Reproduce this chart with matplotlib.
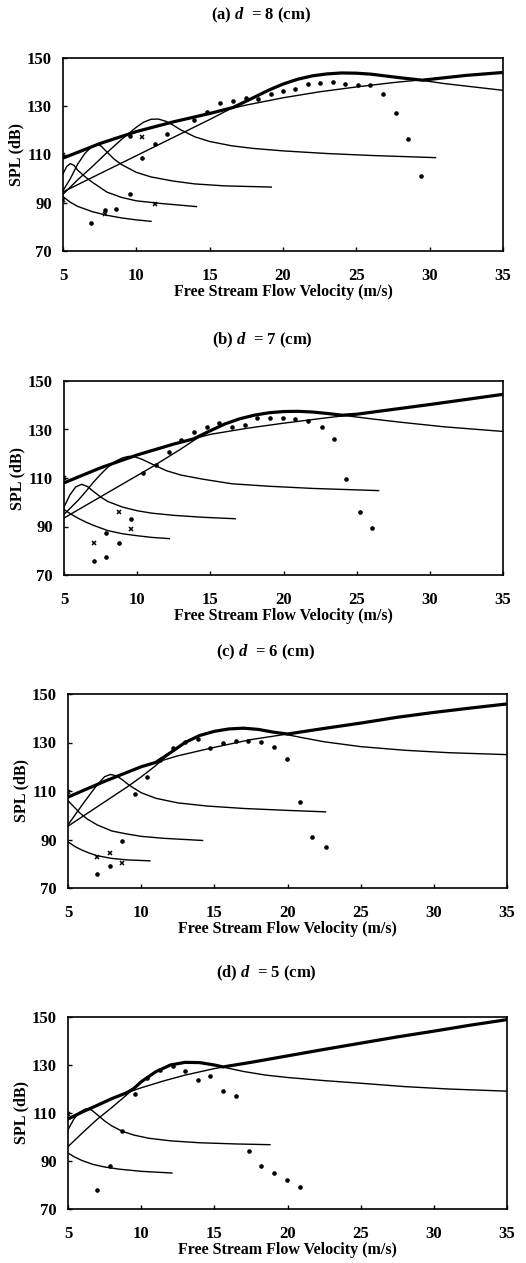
import numpy as np
import matplotlib
matplotlib.use("Agg")
import matplotlib.pyplot as plt

plt.rcParams['font.family'] = ['Liberation Serif', 'DejaVu Serif']
plt.rcParams['font.weight'] = 'bold'
plt.rcParams['axes.labelweight'] = 'bold'
plt.rcParams['mathtext.fontset'] = 'custom'
plt.rcParams['mathtext.it'] = 'Liberation Serif:italic:bold'
plt.rcParams['mathtext.rm'] = 'Liberation Serif:bold'

# ---------------- (a) d = 8 cm ----------------
a_L_x = [5, 7.5, 10, 12.5, 15, 17.5, 20, 22.5, 25, 27.5, 30, 32.5, 35]
a_L_y = [108.5, 114.5, 119.5, 123.5, 127, 130.5, 133.5, 136, 138, 139.8, 141.3, 142.8, 144]
a_c5_x = [5, 7.5, 10, 12.5, 15, 16.6, 18, 19, 20, 21, 22, 23, 24, 25, 26, 28, 29.5, 31, 33, 35]
a_c5_y = [94.5, 102, 109.5, 117, 124.5, 129.5, 133.6, 136.6, 139.2, 141.2, 142.6, 143.4, 143.8, 143.7, 143.3,
          141.8, 140.7, 139.4, 138, 136.6]
a_c4_x = [5, 6, 7, 8, 9, 10, 10.5, 11, 11.5, 12, 12.5, 13, 14, 15, 16.5, 18, 20, 23, 26, 30.4]
a_c4_y = [93.5, 99.5, 105, 110.8, 116.3, 121.3, 123.4, 124.6, 124.7, 123.8, 122.2, 120.3, 117.3, 115.4, 113.6, 112.5, 111.5, 110.4, 109.6, 108.7]
a_c3_x = [5, 5.5, 6, 6.5, 7, 7.3, 7.6, 8, 8.5, 9, 10, 11, 12.5, 14, 16, 19.2]
a_c3_y = [95, 100, 106, 110.5, 113.5, 114.2, 113.5, 111, 108, 105.8, 102.6, 100.7, 99, 97.8, 97, 96.5]
a_c2_x = [5, 5.25, 5.5, 5.75, 6, 6.5, 7, 8, 9, 10, 11.5, 14.1]
a_c2_y = [102, 105, 106.2, 105.5, 103.5, 100.8, 98.5, 94.4, 92.2, 90.8, 89.8, 88.4]
a_c1_x = [5, 5.5, 6, 7, 8, 9, 10, 11]
a_c1_y = [92.5, 90.2, 88.5, 86.3, 84.8, 83.7, 82.9, 82.3]
a_env_x = [5, 7.5, 10, 12.5, 15, 16.6, 18, 19, 20, 21, 22, 23, 24, 25, 26, 28, 29.5, 32.5, 35]
a_env_y = [108.5, 114.5, 119.5, 123.5, 127, 129.5, 133.6, 136.6, 139.2, 141.2, 142.6, 143.4, 143.8, 143.7,
           143.3, 141.8, 140.8, 142.8, 144]
a_dot_x = [6.93, 7.84, 8.64, 9.55, 9.55, 10.4, 11.26, 12.1, 13.9, 14.8, 15.7, 16.6, 17.5, 18.3,
           19.2, 20.0, 20.8, 21.7, 22.5, 23.4, 24.25, 25.1, 25.9, 26.8, 27.7, 28.5, 29.4]
a_dot_y = [81.8, 86.8, 87.6, 93.8, 117.5, 108.5, 114.3, 118.4, 124.4, 127.7, 131.2, 132.1, 133.5, 133.1,
           135.1, 136.3, 137.1, 139.1, 139.8, 139.9, 139.4, 139.0, 138.7, 135.1, 127.3, 116.4, 101]
a_x_x = [5, 5, 7.84, 10.4, 11.26]
a_x_y = [110, 91, 85.3, 117.2, 89.3]

# ---------------- (b) d = 7 cm ----------------
b_L_x = [5, 7.5, 10, 12.5, 15, 17.5, 20, 22.5, 25, 27.5, 30, 32.5, 35]
b_L_y = [108, 114.2, 119.5, 124, 128, 130.5, 132.6, 134.5, 136.3, 138.3, 140.3, 142.4, 144.5]
b_c5_x = [5, 7, 9, 11, 13, 14, 15, 16, 17, 18, 19, 20, 21, 22, 23, 24, 26, 28, 31, 35]
b_c5_y = [93.5, 100.5, 107.5, 114.5, 122, 126, 129.5, 132.3, 134.4, 135.9, 136.9, 137.4, 137.5, 137.2,
          136.6, 135.9, 134.4, 133, 131.1, 129.2]
b_c4_x = [5, 5.5, 6, 6.5, 7, 7.5, 8, 8.5, 9, 9.4, 9.8, 10.3, 11, 12, 13, 14.5, 16.5, 19, 22, 26.5]
b_c4_y = [95, 98, 101, 104.5, 108.2, 111.5, 114.5, 116.8, 118.3, 118.9, 118.8, 117.8, 115.8, 113, 111.2,
          109.5, 107.6, 106.6, 105.7, 104.8]
b_c3_x = [5, 5.4, 5.8, 6.2, 6.6, 7, 7.5, 8, 9, 10, 11, 12.5, 14.5, 16.7]
b_c3_y = [98, 103, 106.3, 107.4, 106.5, 104.5, 102.2, 100.3, 98, 96.5, 95.5, 94.6, 93.8, 93.2]
b_c2_x = [5, 5.5, 6, 6.5, 7, 8, 9, 10, 11, 12.2]
b_c2_y = [97, 95, 93.3, 91.8, 90.5, 88.3, 87, 86.2, 85.5, 85]
b_env_x = [5, 7.5, 10, 12.5, 13.84, 15, 16, 17, 18, 19, 20, 21, 22, 23, 24, 25, 27.5, 30, 32.5, 35]
b_env_y = [108, 114.2, 119.5, 124, 126.1, 129.5, 132.3, 134.4, 135.9, 136.9, 137.4, 137.5, 137.2, 136.6,
           135.9, 136.3, 138.3, 140.3, 142.4, 144.5]
b_dot_x = [7.03, 7.85, 7.85, 8.74, 9.6, 10.4, 11.3, 12.15, 13.0, 13.9, 14.8, 15.6, 16.5, 17.4, 18.2,
           19.1, 19.97, 20.8, 21.7, 22.6, 23.45, 24.3, 25.2, 26.05]
b_dot_y = [75.7, 77.3, 87.3, 83.2, 93.2, 112.2, 115.3, 120.9, 125.7, 128.9, 130.9, 132.6, 130.9, 131.9,
           134.6, 134.6, 134.9, 134.2, 133.3, 131.2, 126.1, 109.5, 96, 89.5]
b_x_x = [5, 7.03, 8.74, 9.6]
b_x_y = [110, 83.2, 96, 89]

# ---------------- (c) d = 6 cm ----------------
c_L_x = [5, 7.5, 10, 12.5, 15, 17.5, 20, 22.5, 25, 27.5, 30, 32.5, 35]
c_L_y = [107.5, 114, 120, 124.5, 128, 131.2, 133.5, 135.8, 138, 140.4, 142.4, 144.2, 145.9]
c_c5_x = [5, 6, 7, 8, 9, 10, 11, 12, 13, 14, 15, 16, 17, 18, 19, 20, 21, 22.5, 25, 28, 31, 35]
c_c5_y = [95.5, 99.5, 103.5, 107.5, 111.5, 115.8, 120.5, 125.8, 130, 132.9, 134.6, 135.6, 135.9, 135.4,
          134.3, 133.2, 132, 130.3, 128.3, 126.8, 125.8, 125]
c_c4_x = [5, 5.5, 6, 6.5, 7, 7.5, 7.9, 8.3, 8.7, 9.2, 10, 11, 12.5, 14.5, 17, 20, 22.6]
c_c4_y = [96, 100.3, 104.5, 108.6, 112.6, 115.9, 116.8, 116.3, 114.7, 112.3, 109.3, 107, 105.1, 103.8,
          102.8, 102, 101.4]
c_c3_x = [5, 5.4, 5.8, 6.3, 7, 8, 9, 10, 11.5, 14.2]
c_c3_y = [106, 103.5, 101, 98.5, 96, 93.5, 92.3, 91.3, 90.5, 89.6]
c_c2_x = [5, 5.5, 6, 6.5, 7, 8, 9, 10.6]
c_c2_y = [89, 87, 85.5, 84.3, 83.3, 82.2, 81.6, 81.2]
c_env_x = [5, 7.5, 10, 11, 12, 13, 14, 15, 16, 17, 18, 19, 20, 22.5, 25, 27.5, 30, 32.5, 35]
c_env_y = [107.5, 114, 120, 121.8, 125.8, 130, 132.9, 134.6, 135.6, 135.9, 135.4, 134.3, 133.5, 135.8,
           138, 140.4, 142.4, 144.2, 145.9]
c_dot_x = [6.98, 7.85, 8.7, 9.55, 10.4, 11.26, 12.15, 13.0, 13.86, 14.7, 15.6, 16.5, 17.3, 18.2, 19.1,
           19.96, 20.85, 21.7, 22.6]
c_dot_y = [75.9, 78.9, 89.5, 108.7, 115.6, 122.8, 127.6, 130.1, 131.3, 127.6, 130.0, 130.8, 130.5, 130.4,
           128.0, 123.4, 105.4, 91.0, 86.9]
c_x_x = [5, 6.98, 7.85, 8.7]
c_x_y = [109.5, 82.6, 84.4, 80.3]

# ---------------- (d) d = 5 cm ----------------
d_L_x = [5, 6, 7, 8, 9, 10, 11.5, 13, 15, 17.5, 20, 22.5, 25, 27.5, 30, 32.5, 35]
d_L_y = [107.5, 110.3, 113.2, 116, 118.4, 120.5, 123.3, 125.8, 128.5, 131.1, 133.8, 136.5, 139.1, 141.7,
         144.1, 146.6, 148.9]
d_c5_x = [5, 6, 7, 8, 9, 10, 11, 12, 13, 14, 15, 16, 17, 18.5, 20, 22.5, 25, 28, 31, 35]
d_c5_y = [96, 101.8, 107.4, 112.3, 117.5, 123, 127.2, 130, 131.1, 131, 130, 128.6, 127.3, 125.8, 124.8,
          123.5, 122.4, 121, 120, 119.1]
d_c3_x = [5, 5.4, 5.8, 6.2, 6.6, 7, 7.5, 8, 8.7, 9.5, 10.5, 12, 14, 16.5, 18.8]
d_c3_y = [103, 107.5, 110.3, 111.7, 111.3, 109.3, 106.7, 104.6, 102.4, 100.8, 99.5, 98.4, 97.6, 97.1, 96.8]
d_c2_x = [5, 5.5, 6, 6.7, 7.5, 8.5, 10, 12.1]
d_c2_y = [93.3, 91.5, 90.1, 88.6, 87.5, 86.6, 85.7, 85]
d_env_x = [5, 6, 7, 8, 9, 9.5, 10, 11, 12, 13, 14, 15, 15.6, 17.5, 20, 22.5, 25, 27.5, 30, 32.5, 35]
d_env_y = [107.5, 110.5, 113.2, 116, 118.4, 120.2, 123, 127.2, 130, 131.1, 131, 130, 129.2, 131.1, 133.8,
           136.5, 139.1, 141.7, 144.1, 146.6, 148.9]
d_dot_x = [7.0, 7.85, 8.7, 9.55, 10.4, 11.26, 12.15, 13.0, 13.86, 14.7, 15.6, 16.5, 17.35, 18.2, 19.1,
           19.96, 20.85]
d_dot_y = [77.8, 87.8, 102.4, 118.1, 124.6, 127.8, 129.4, 127.4, 123.6, 125.3, 119.0, 117.0, 94.3, 88.0,
           85.0, 81.9, 79.2]
d_x_x = [5]
d_x_y = [109.5]

titles = ["(a) $\\mathit{d}$  = 8 (cm)", "(b) $\\mathit{d}$  = 7 (cm)",
          "(c) $\\mathit{d}$  = 6 (cm)", "(d) $\\mathit{d}$  = 5 (cm)"]
x_ticks = [5, 10, 15, 20, 25, 30, 35]
y_ticks = [70, 90, 110, 130, 150]

panels = [
    dict(thin=[(a_L_x, a_L_y), (a_c5_x, a_c5_y), (a_c4_x, a_c4_y), (a_c3_x, a_c3_y), (a_c2_x, a_c2_y), (a_c1_x, a_c1_y)],
         env=(a_env_x, a_env_y), dots=(a_dot_x, a_dot_y), xs=(a_x_x, a_x_y)),
    dict(thin=[(b_L_x, b_L_y), (b_c5_x, b_c5_y), (b_c4_x, b_c4_y), (b_c3_x, b_c3_y), (b_c2_x, b_c2_y)],
         env=(b_env_x, b_env_y), dots=(b_dot_x, b_dot_y), xs=(b_x_x, b_x_y)),
    dict(thin=[(c_L_x, c_L_y), (c_c5_x, c_c5_y), (c_c4_x, c_c4_y), (c_c3_x, c_c3_y), (c_c2_x, c_c2_y)],
         env=(c_env_x, c_env_y), dots=(c_dot_x, c_dot_y), xs=(c_x_x, c_x_y)),
    dict(thin=[(d_L_x, d_L_y), (d_c5_x, d_c5_y), (d_c3_x, d_c3_y), (d_c2_x, d_c2_y)],
         env=(d_env_x, d_env_y), dots=(d_dot_x, d_dot_y), xs=(d_x_x, d_x_y)),
]

# axes boxes in pixels: left, top, right, bottom ; title position in pixels
W, H = 526, 1263
boxes = [(63, 58, 503, 251), (64, 381, 503, 575), (68, 694, 507, 888), (68, 1017, 507, 1209)]
title_xy = [(261, 15), (262, 340), (265, 652), (266, 973)]

fig = plt.figure(figsize=(W / 100, H / 100), dpi=100)

for i, p in enumerate(panels):
    l, t, r, b = boxes[i]
    ax = fig.add_axes([l / W, 1 - b / H, (r - l) / W, (b - t) / H])
    for xs, ys in p['thin']:
        ax.plot(xs, ys, color='black', lw=1.0, solid_joinstyle='round')
    ax.plot(p['env'][0], p['env'][1], color='black', lw=2.3, solid_joinstyle='round', solid_capstyle='round')
    ax.plot(p['dots'][0], p['dots'][1], 'o', color='black', ms=3.3, mew=0)
    ax.plot(p['xs'][0], p['xs'][1], 'x', color='black', ms=3.5, mew=1.1)

    ax.set_xlim(5, 35)
    ax.set_ylim(70, 150)
    ax.set_xticks(x_ticks)
    ax.set_yticks(y_ticks)
    ax.tick_params(direction='in', length=3, width=1, labelsize=12, top=False, right=False)
    ax.tick_params(axis='x', pad=12)
    ax.tick_params(axis='y', pad=8)
    for s in ax.spines.values():
        s.set_linewidth(1.2)
    ax.set_xlabel('Free Stream Flow Velocity (m/s)', fontsize=11.5, labelpad=0)
    ax.set_ylabel('SPL (dB)', fontsize=11.5, labelpad=2)

    fig.text(title_xy[i][0] / W, 1 - title_xy[i][1] / H, titles[i], ha='center', va='center', fontsize=12)

fig.savefig('out.png', dpi=100)
